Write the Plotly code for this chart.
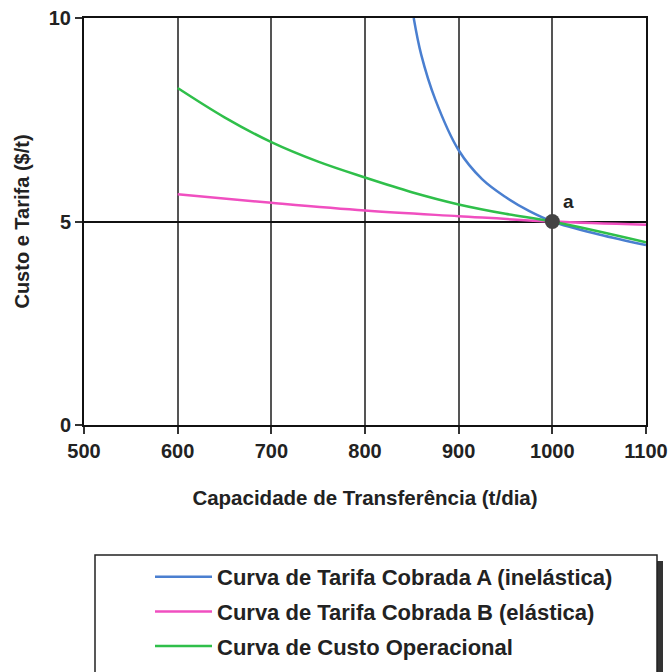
import plotly.graph_objects as go

# Data
x_blue = [852, 860, 875, 900, 925, 950, 975, 1000, 1050, 1100]
y_blue = [10.0, 9.1, 8.0, 6.75, 6.04, 5.6, 5.26, 5.0, 4.68, 4.42]

x_pink = [600, 700, 800, 900, 1000, 1100]
y_pink = [5.67, 5.46, 5.27, 5.13, 5.0, 4.92]

x_green = [600, 650, 700, 750, 800, 850, 900, 950, 1000, 1100]
y_green = [8.28, 7.56, 6.95, 6.47, 6.08, 5.72, 5.42, 5.19, 5.0, 4.49]

point_x = [1000]
point_y = [5.0]
point_label = "a"

names = [
    "Curva de Tarifa Cobrada A (inelástica)",
    "Curva de Tarifa Cobrada B (elástica)",
    "Curva de Custo Operacional",
]
x_ticks = [500, 600, 700, 800, 900, 1000, 1100]
y_ticks = [0, 5, 10]

FONT = "Arial, Liberation Sans, sans-serif"

fig = go.Figure()
colors = ["#4a7fd0", "#f04fc0", "#2fbf4a"]
for i, (xs, ys) in enumerate([(x_blue, y_blue), (x_pink, y_pink), (x_green, y_green)]):
    fig.add_trace(go.Scatter(x=xs, y=ys, mode="lines", name="<b>" + names[i] + "</b>",
                             legendgroup=f"g{i}",
                             line=dict(color=colors[i], width=2.5, shape="spline", smoothing=1.0)))
fig.add_trace(go.Scatter(x=point_x, y=point_y, mode="markers", showlegend=False,
                         marker=dict(color="#444444", size=15)))

fig.add_annotation(x=point_x[0], y=point_y[0], text="<b>" + point_label + "</b>",
                   showarrow=False, xshift=16, yshift=20,
                   font=dict(size=19, color="#222", family=FONT))

# Legend box with shadow
fig.add_shape(type="rect", xref="paper", yref="paper",
              x0=(101 - 84) / 562, x1=(663 - 84) / 562,
              y0=(425 - 690) / 407, y1=(425 - 561) / 407,
              fillcolor="#333", line=dict(width=0), layer="below")
fig.add_shape(type="rect", xref="paper", yref="paper",
              x0=(95 - 84) / 562, x1=(657 - 84) / 562,
              y0=(425 - 690) / 407, y1=(425 - 555) / 407,
              fillcolor="white", line=dict(color="#222", width=1.5), layer="below")

fig.update_layout(
    width=671, height=672,
    margin=dict(l=84, r=25, t=18, b=247, autoexpand=False),
    paper_bgcolor="white", plot_bgcolor="white",
    font=dict(family=FONT, color="#222", size=20),
    showlegend=True,
    legend=dict(x=(150 - 84) / 562, y=(425 - 556) / 407, xanchor="left", yanchor="top",
                bgcolor="rgba(0,0,0,0)", borderwidth=0,
                font=dict(size=22, family=FONT, color="#222"),
                traceorder="grouped", tracegroupgap=3, itemwidth=57),
    xaxis=dict(range=[500, 1100], tickvals=x_ticks, ticktext=[f"<b>{v}</b>" for v in x_ticks],
               showgrid=True, gridcolor="#555", gridwidth=2,
               showline=True, linecolor="#111", linewidth=2, mirror=True,
               ticks="outside", ticklen=7, tickcolor="#333", tickwidth=1.5,
               zeroline=False, tickfont=dict(size=20),
               title=dict(text="<b>Capacidade de Transferência (t/dia)</b>",
                          font=dict(size=20.5), standoff=30)),
    yaxis=dict(range=[0, 10], tickvals=y_ticks, ticktext=[f"<b>{v}</b>" for v in y_ticks],
               showgrid=True, gridcolor="#111", gridwidth=2,
               showline=True, linecolor="#111", linewidth=2, mirror=True,
               ticks="outside", ticklen=7, tickcolor="#333", tickwidth=1.5,
               zeroline=False, tickfont=dict(size=20),
               title=dict(text="<b>Custo e Tarifa ($/t)</b>", font=dict(size=20), standoff=14)),
)

fig.write_html("out.html", config={"displayModeBar": False},
               post_script="document.body.style.margin='0px';")
